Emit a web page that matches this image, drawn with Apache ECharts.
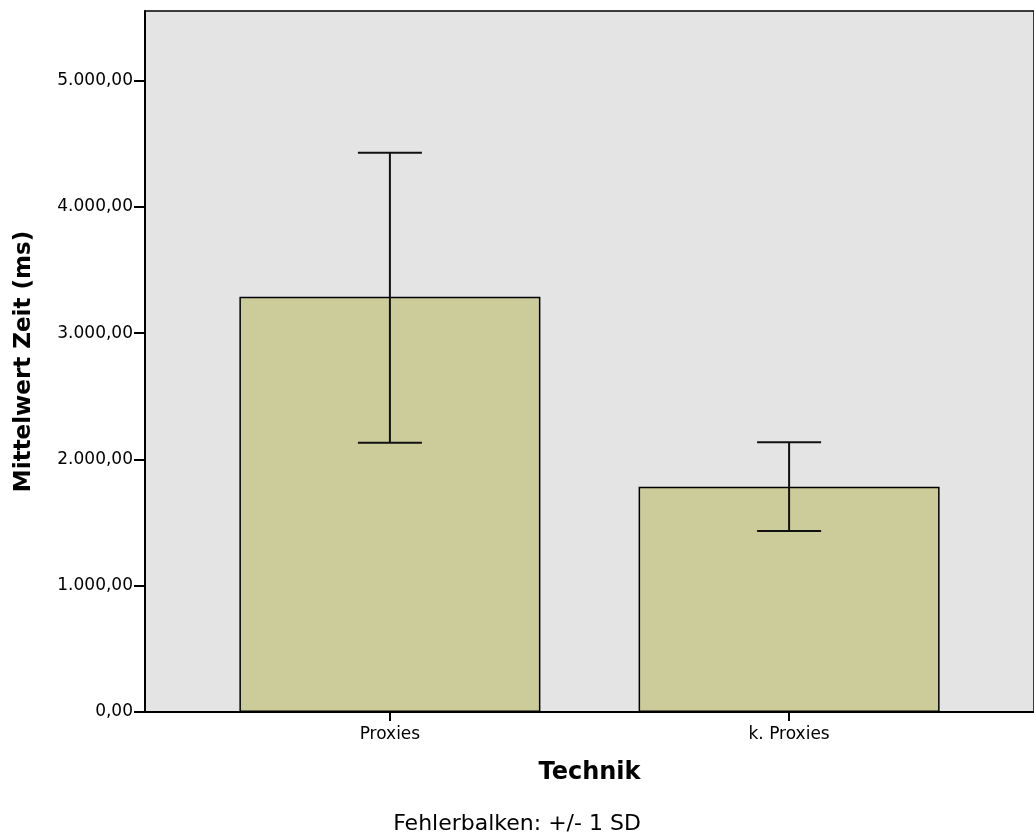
<!DOCTYPE html>
<html>
<head>
<meta charset="utf-8">
<script src="https://cdn.jsdelivr.net/npm/echarts@6/dist/echarts.min.js"></script>
<style>
html,body{margin:0;padding:0;background:#fff;}
#chart{width:1034px;height:839px;}
</style>
</head>
<body>
<div id="chart"></div>
<script>
var categories = ['Proxies', 'k. Proxies'];
var meanValues = [3288, 1784];
var sdLow = [2132, 1433];
var sdHigh = [4428, 2136];
var yTicks = [0, 1000, 2000, 3000, 4000, 5000];

var FONT = 'DejaVu Sans';

function fmt(v) {
  var s = Math.round(v).toString().replace(/\B(?=(\d{3})+(?!\d))/g, '.');
  return s + ',00';
}

var barData = meanValues.map(function (v, i) { return [i, v]; });
var errData = meanValues.map(function (v, i) { return [i, sdLow[i], sdHigh[i]]; });

var chart = echarts.init(document.getElementById('chart'), null, {renderer: 'canvas'});
chart.setOption({
  animation: false,
  backgroundColor: '#ffffff',
  title: {
    text: 'Fehlerbalken: +/- 1 SD',
    left: 'center',
    top: 808,
    textStyle: {fontFamily: FONT, fontSize: 22, fontWeight: 'normal', color: '#000'}
  },
  grid: {
    left: 145, top: 11, bottom: 127, right: -4,
    show: true, backgroundColor: '#e4e4e4', borderColor: '#000', borderWidth: 1.5,
    containLabel: false
  },
  xAxis: {
    type: 'value',
    min: -0.6135,
    max: 1.6135,
    name: 'Technik',
    nameLocation: 'middle',
    nameGap: 49,
    nameTextStyle: {fontFamily: FONT, fontSize: 24, fontWeight: 'bold', color: '#000'},
    splitLine: {show: false},
    axisLine: {show: true, onZero: false, lineStyle: {color: '#000', width: 2}},
    axisTick: {show: true, customValues: [0, 1], length: 9, lineStyle: {color: '#000', width: 2}},
    axisLabel: {
      customValues: [0, 1],
      margin: 14,
      fontFamily: FONT, fontSize: 17, color: '#000',
      formatter: function (v) { return categories[Math.round(v)]; }
    }
  },
  yAxis: {
    type: 'value',
    min: 0,
    max: 5550,
    interval: 1000,
    name: 'Mittelwert Zeit (ms)',
    nameLocation: 'middle',
    nameGap: 109,
    nameTextStyle: {fontFamily: FONT, fontSize: 23, fontWeight: 'bold', color: '#000'},
    splitLine: {show: false},
    axisLine: {show: true, onZero: false, lineStyle: {color: '#000', width: 2}},
    axisTick: {show: true, length: 11, lineStyle: {color: '#000', width: 2}},
    axisLabel: {
      margin: 12,
      showMaxLabel: false,
      fontFamily: FONT, fontSize: 17, color: '#000',
      formatter: function (v) { return fmt(v); }
    }
  },
  series: [
    {
      type: 'bar',
      data: barData,
      barWidth: 301,
      itemStyle: {color: '#cccc9a', borderColor: '#000', borderWidth: 1.5},
      z: 2
    },
    {
      type: 'custom',
      data: errData,
      z: 5,
      renderItem: function (params, api) {
        var x = api.value(0);
        var lo = api.coord([x, api.value(1)]);
        var hi = api.coord([x, api.value(2)]);
        var hw = 32;
        var st = {stroke: '#111', lineWidth: 2};
        return {
          type: 'group',
          children: [
            {type: 'line', shape: {x1: lo[0], y1: lo[1], x2: hi[0], y2: hi[1]}, style: st},
            {type: 'line', shape: {x1: hi[0] - hw, y1: hi[1], x2: hi[0] + hw, y2: hi[1]}, style: st},
            {type: 'line', shape: {x1: lo[0] - hw, y1: lo[1], x2: lo[0] + hw, y2: lo[1]}, style: st}
          ]
        };
      }
    }
  ]
});
</script>
</body>
</html>
